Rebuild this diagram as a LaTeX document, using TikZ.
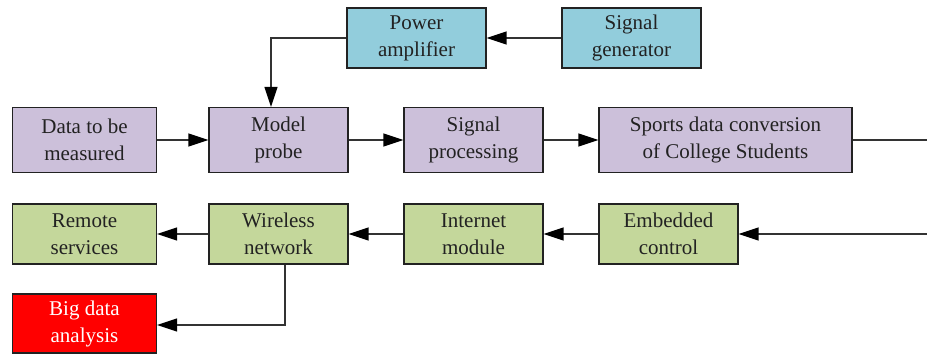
\documentclass[tikz,border=0pt]{standalone}
\usepackage{fontspec}
\setmainfont{Liberation Serif}
\usetikzlibrary{arrows.meta}
\definecolor{boxpurple}{HTML}{CCC0DA}
\definecolor{boxblue}{HTML}{92CDDC}
\definecolor{boxgreen}{HTML}{C4D79B}
\definecolor{boxred}{HTML}{FF0000}
\definecolor{inkdark}{HTML}{222222}
\definecolor{wiregray}{HTML}{333333}
\tikzset{
  blk/.style={draw=inkdark, line width=1.3pt, text=inkdark, align=center,
    font=\fontsize{21}{27}\selectfont, inner sep=0pt},
  pbox/.style={blk, fill=boxpurple, minimum height=65pt},
  bbox/.style={blk, fill=boxblue, minimum height=60pt, minimum width=139pt},
  gbox/.style={blk, fill=boxgreen, minimum height=60pt},
  rbox/.style={blk, fill=boxred, text=white, minimum height=59pt, minimum width=144pt},
  link/.style={draw=wiregray, line width=1.5pt,
    -{Triangle[length=20pt,width=13pt,color=black]}},
}
\begin{document}
\begin{tikzpicture}[x=1pt, y=-1pt]
\useasboundingbox (0,0) rectangle (927,359);
% top row
\node[bbox] (pa) at (416.5,38) {Power\\amplifier};
\node[bbox] (sg) at (631.5,38) {Signal\\generator};
% middle row
\node[pbox, minimum width=144pt] (dm) at (84.5,140) {Data to be\\measured};
\node[pbox, minimum width=139pt] (mp) at (278.5,140) {Model\\probe};
\node[pbox, minimum width=139pt] (sp) at (473.5,140) {Signal\\processing};
\node[pbox, minimum width=253pt] (sc) at (725.5,140) {Sports data conversion\\of College Students};
% lower row
\node[gbox, minimum width=144pt] (rs) at (84.5,234) {Remote\\services};
\node[gbox, minimum width=139pt] (wn) at (278.5,234) {Wireless\\network};
\node[gbox, minimum width=139pt] (im) at (473.5,234) {Internet\\module};
\node[gbox, minimum width=139pt] (ec) at (668.5,234) {Embedded\\control};
\node[rbox] (bd) at (84.5,323.5) {Big data\\analysis};
% routing points
\coordinate (pabend) at (271,38);
\coordinate (rtop) at (927.6,140);
\coordinate (rbot) at (927.6,234);
\coordinate (wnbend) at (285,325);
% connectors
\draw[link] (sg.west) -- (pa.east);
\draw[link] (pa.west) -- (pabend) -- (pabend |- mp.north);
\draw[link] (dm.east) -- (mp.west);
\draw[link] (mp.east) -- (sp.west);
\draw[link] (sp.east) -- (sc.west);
\draw[link] (sc.east) -- (rtop) -- (rbot) -- (ec.east);
\draw[link] (ec.west) -- (im.east);
\draw[link] (im.west) -- (wn.east);
\draw[link] (wn.west) -- (rs.east);
\draw[link] (wnbend |- wn.south) -- (wnbend) -- (wnbend -| bd.east);
\end{tikzpicture}
\end{document}
